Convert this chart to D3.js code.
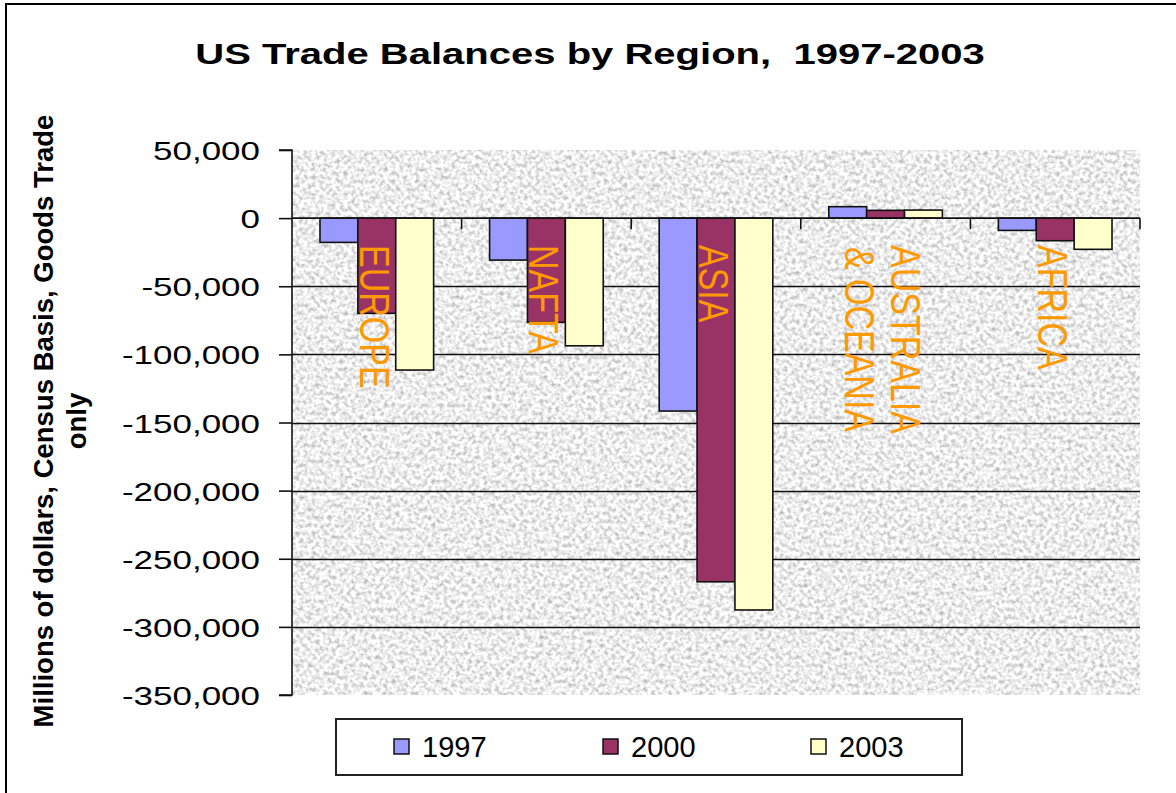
<!DOCTYPE html>
<html><head><meta charset="utf-8">
<script src="https://cdn.jsdelivr.net/npm/d3@7"></script>
<style>html,body{margin:0;padding:0;background:#fff;}svg{display:block;}</style>
</head><body>
<script>
const categories = ["EUROPE", "NAFTA", "ASIA", "AUSTRALIA & OCEANIA", "AFRICA"];
const years = ["1997", "2000", "2003"];
const values1997 = [-17800, -30800, -141600, 8400, -9000];
const values2000 = [-69900, -76500, -266900, 5700, -16600];
const values2003 = [-111500, -93700, -287600, 5900, -22900];
const yTicks = [50000, 0, -50000, -100000, -150000, -200000, -250000, -300000, -350000];
const gridValues = [-50000, -100000, -150000, -200000, -250000, -300000];
const seriesColors = ["#9999FF", "#993366", "#FFFFCC"];

const series = [values1997, values2000, values2003];
const W = 1176, H = 793;
const FONT = "'Liberation Sans', Arial, sans-serif";
const svg = d3.select("body").append("svg").attr("width", W).attr("height", H);

// texture filter
const defs = svg.append("defs");
const f = defs.append("filter").attr("id", "granite").attr("x", 0).attr("y", 0).attr("width", 1).attr("height", 1)
  .attr("color-interpolation-filters", "sRGB");
f.append("feTurbulence").attr("type", "fractalNoise").attr("baseFrequency", 0.25).attr("numOctaves", 4).attr("seed", 7).attr("result", "n");
f.append("feColorMatrix").attr("in", "n").attr("type", "matrix")
  .attr("values", "0.6 0 0 0 0.63  0.6 0 0 0 0.63  0.6 0 0 0 0.63  0 0 0 0 1");

// outer frame
svg.append("rect").attr("x", 6).attr("y", 4).attr("width", W + 20).attr("height", H + 20)
  .attr("fill", "#fff").attr("stroke", "#000").attr("stroke-width", 2);

const plotL = 292, plotR = 1140, plotT = 150, plotB = 695;
const x = d3.scaleBand().domain(categories).range([plotL, plotR]).padding(0);
const bw = x.bandwidth();
const xSub = d3.scaleBand().domain(years).range([bw * 0.165, bw * 0.835]).padding(0);
const y = d3.scaleLinear().domain([-350000, 50000]).range([plotB, plotT]);

// plot background
svg.append("rect").attr("x", plotL).attr("y", plotT).attr("width", plotR - plotL).attr("height", plotB - plotT)
  .attr("filter", "url(#granite)").attr("fill", "#e8e8e8");

// gridlines
svg.append("g").selectAll("line").data(gridValues).join("line")
  .attr("x1", plotL).attr("x2", plotR).attr("y1", d => Math.round(y(d)) + 0.5).attr("y2", d => Math.round(y(d)) + 0.5)
  .attr("stroke", "#111").attr("stroke-width", 1.3);

// bars
const barData = [];
categories.forEach((c, i) => years.forEach((yr, j) => barData.push({ c, yr, v: series[j][i], color: seriesColors[j] })));
svg.append("g").selectAll("rect").data(barData).join("rect")
  .attr("x", d => x(d.c) + xSub(d.yr))
  .attr("width", xSub.bandwidth())
  .attr("y", d => y(Math.max(0, d.v)))
  .attr("height", d => Math.abs(y(d.v) - y(0)))
  .attr("fill", d => d.color)
  .attr("stroke", "#111").attr("stroke-width", 1.6);

// y axis
const yAxis = d3.axisLeft(y).tickValues(yTicks).tickSize(13).tickFormat(d3.format(","));
const ya = svg.append("g").attr("transform", `translate(${plotL},0)`).call(yAxis);
ya.select(".domain").attr("stroke", "#111").attr("stroke-width", 1.6).attr("d", `M-13,${y(50000)}H0V${y(-350000)}H-13`);
ya.selectAll(".tick line").attr("stroke", "#111").attr("stroke-width", 1.6);
ya.selectAll(".tick text").remove();
ya.selectAll(".tick").append("text")
  .attr("transform", "translate(-32,9.5) scale(1.32,1)")
  .attr("text-anchor", "end").attr("fill", "#000")
  .style("font-family", FONT).style("font-size", "26.5px")
  .text(d => d3.format(",")(d).replace("−", "-"));

// category axis at zero
svg.append("line").attr("x1", plotL).attr("x2", plotR).attr("y1", y(0)).attr("y2", y(0))
  .attr("stroke", "#111").attr("stroke-width", 1.6);
svg.append("g").selectAll("line").data(categories.slice(1).concat(["__end"])).join("line")
  .attr("x1", d => d === "__end" ? plotR : x(d)).attr("x2", d => d === "__end" ? plotR : x(d))
  .attr("y1", y(0)).attr("y2", y(0) + 11)
  .attr("stroke", "#111").attr("stroke-width", 1.6);

// category labels (rotated, orange)
const labFS = 34, labSX = 1.25, capH = 0.716 * labFS, lineGap = 46 / labSX;
const labTop = 245;
categories.forEach(c => {
  const lines = c.includes(" & ") ? [c.split(" & ")[0], "& " + c.split(" & ")[1]] : [c];
  const g = svg.append("g");
  const t = g.append("text").attr("text-anchor", "middle").attr("fill", "#FF9900")
    .style("font-family", FONT).style("font-size", labFS + "px");
  lines.forEach((ln, k) => {
    t.append("tspan").attr("x", 0).attr("y", capH / 2 + (k - (lines.length - 1) / 2) * lineGap).text(ln);
  });
  let maxLen = 0;
  t.selectAll("tspan").each(function () { maxLen = Math.max(maxLen, this.getComputedTextLength()); });
  const cx = x(c) + bw / 2 - 2;
  g.attr("transform", `translate(${cx},${labTop + maxLen / 2}) scale(${labSX},1) rotate(90)`);
});

// title
svg.append("text").attr("transform", "translate(590,64) scale(1.38,1)")
  .attr("text-anchor", "middle").style("font-family", FONT).style("font-weight", "bold").style("font-size", "29px")
  .style("white-space", "pre").attr("xml:space", "preserve")
  .text("US Trade Balances by Region,  1997-2003");

// y axis title
const yTitle = ["Millions of dollars, Census Basis, Goods Trade", "only"];
yTitle.forEach((ln, k) => {
  svg.append("text").attr("transform", `translate(${53 + k * 33},421) rotate(-90)`)
    .attr("text-anchor", "middle").style("font-family", FONT).style("font-weight", "bold").style("font-size", "27.5px")
    .text(ln);
});

// legend
svg.append("rect").attr("x", 336).attr("y", 719).attr("width", 626).attr("height", 56)
  .attr("fill", "#fff").attr("stroke", "#222").attr("stroke-width", 2);
const legX = [394, 603, 811];
years.forEach((yr, j) => {
  svg.append("rect").attr("x", legX[j]).attr("y", 739).attr("width", 15).attr("height", 15)
    .attr("fill", seriesColors[j]).attr("stroke", "#111").attr("stroke-width", 1.5);
  svg.append("text").attr("x", legX[j] + 28).attr("y", 757)
    .style("font-family", FONT).style("font-size", "29px").text(yr);
});
</script>
</body></html>
